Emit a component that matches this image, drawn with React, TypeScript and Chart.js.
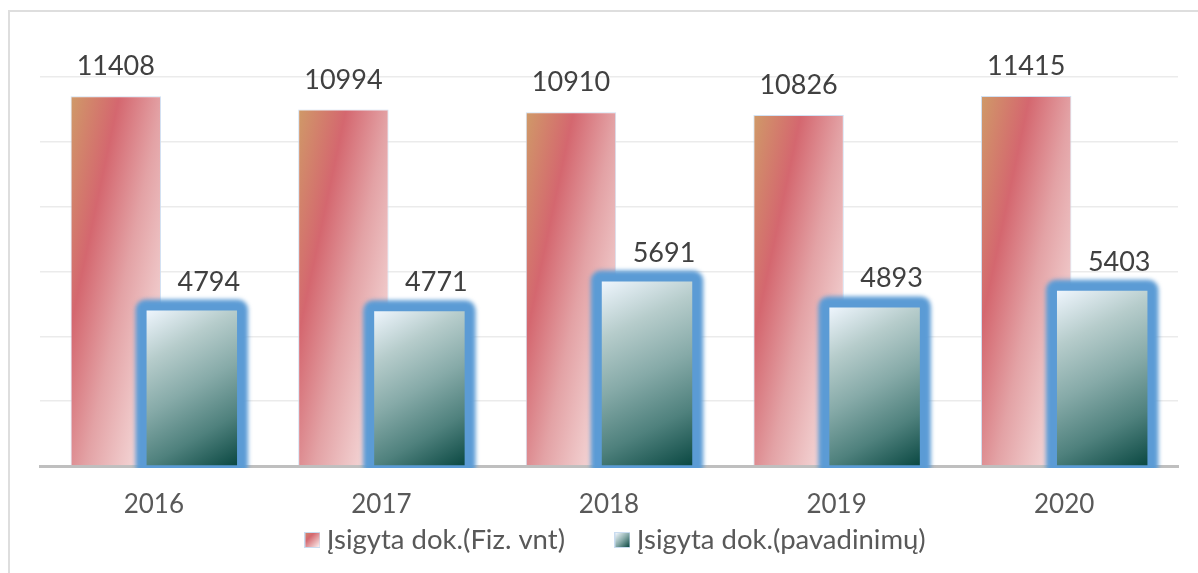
import React, { useEffect, useRef } from 'react';
import { Chart, registerables } from 'chart.js';

Chart.register(...registerables);

const years = ['2016', '2017', '2018', '2019', '2020'];
const fizVnt = [11408, 10994, 10910, 10826, 11415];
const pavadinimu = [4794, 4771, 5691, 4893, 5403];
const seriesNames = ['Įsigyta dok.(Fiz. vnt)', 'Įsigyta dok.(pavadinimų)'];
const yMax = 12000;
const yStep = 2000;

const FONT = 'Lato, "Open Sans", sans-serif';
const CAT = 0.668;
const BAR = 1.19;

function redGradient(g2: CanvasRenderingContext2D, left: number, top: number, w: number, h: number) {
  const nx = 0.978, ny = 0.206;
  const L = nx * w + ny * h;
  const g = g2.createLinearGradient(left, top, left + nx * L, top + ny * L);
  g.addColorStop(0, '#cf9a68');
  g.addColorStop(0.13, '#d2836b');
  g.addColorStop(0.29, '#d4676f');
  g.addColorStop(0.55, '#e3a2a5');
  g.addColorStop(0.75, '#eec4c5');
  g.addColorStop(1, '#faecec');
  return g;
}

function tealGradient(g2: CanvasRenderingContext2D, left: number, top: number, w: number, h: number) {
  const g = g2.createLinearGradient(left, top, left + w, top + h);
  g.addColorStop(0, '#eef5fd');
  g.addColorStop(0.25, '#b6cccb');
  g.addColorStop(0.5, '#86aaa8');
  g.addColorStop(0.75, '#4f817d');
  g.addColorStop(1, '#0a4842');
  return g;
}

function fillFor(c: any, ds: number) {
  const chart = c.chart;
  const xs = chart.scales && chart.scales.x;
  const ys = chart.scales && chart.scales.y;
  if (!xs || !ys || !chart.chartArea || c.dataIndex === undefined) return ds === 0 ? '#d9747a' : '#6a9a96';
  const i = c.dataIndex;
  const v = ds === 0 ? fizVnt[i] : pavadinimu[i];
  const center = xs.getPixelForValue(i);
  const catW = xs.width / years.length;
  const slot = (catW * CAT) / 2;
  const w = slot * BAR;
  const cx = center + (ds === 0 ? -slot / 2 : slot / 2);
  const top = ys.getPixelForValue(v);
  const base = ys.getPixelForValue(0);
  const left = cx - w / 2;
  return ds === 0
    ? redGradient(chart.ctx, left, top, w, base - top)
    : tealGradient(chart.ctx, left, top, w, base - top);
}

function legendSwatch(kind: number) {
  const cv = document.createElement('canvas');
  cv.width = 16;
  cv.height = 16;
  const g2 = cv.getContext('2d')!;
  g2.fillStyle = '#c9dcf0';
  g2.fillRect(0, 0, 16, 16);
  if (kind === 0) {
    const g = g2.createLinearGradient(1, 1, 15, 15);
    g.addColorStop(0, '#d2836b');
    g.addColorStop(0.3, '#d4676f');
    g.addColorStop(0.7, '#eab5b7');
    g.addColorStop(1, '#fbf0f0');
    g2.fillStyle = g;
  } else {
    const g = g2.createLinearGradient(1, 1, 15, 15);
    g.addColorStop(0, '#f4f8ff');
    g.addColorStop(0.5, '#86aaa8');
    g.addColorStop(1, '#0a4842');
    g2.fillStyle = g;
  }
  g2.fillRect(1, 1, 14, 14);
  return cv;
}

function roundRectPath(ctx: CanvasRenderingContext2D, x: number, y: number, w: number, h: number, r: number) {
  ctx.beginPath();
  ctx.moveTo(x + r, y);
  ctx.lineTo(x + w - r, y);
  ctx.arcTo(x + w, y, x + w, y + r, r);
  ctx.lineTo(x + w, y + h - r);
  ctx.arcTo(x + w, y + h, x + w - r, y + h, r);
  ctx.lineTo(x + r, y + h);
  ctx.arcTo(x, y + h, x, y + h - r, r);
  ctx.lineTo(x, y + r);
  ctx.arcTo(x, y, x + r, y, r);
  ctx.closePath();
}

// Chart.js draws datasets last-to-first; after the red series is drawn,
// paint the blue glow and redraw the teal bars on top of it.
const glowPlugin = {
  id: 'glow',
  afterDatasetDraw(chart: any, args: any) {
    if (args.index !== 0) return;
    const ctx = chart.ctx as CanvasRenderingContext2D;
    const meta = chart.getDatasetMeta(1);
    const area = chart.chartArea;
    ctx.save();
    ctx.beginPath();
    ctx.rect(0, 0, chart.width, area.bottom + 2);
    ctx.clip();
    meta.data.forEach((el: any) => {
      const p = el.getProps(['x', 'y', 'base', 'width'], true);
      const left = p.x - p.width / 2;
      const top = Math.min(p.y, p.base);
      const h = Math.abs(p.base - p.y);
      ctx.save();
      ctx.filter = 'blur(2px)';
      ctx.fillStyle = '#5b9bd5';
      roundRectPath(ctx, left - 11, top - 11, p.width + 22, h + 22, 10);
      ctx.fill();
      ctx.restore();
    });
    ctx.restore();
    ctx.save();
    ctx.beginPath();
    ctx.rect(area.left, area.top, area.right - area.left, area.bottom - area.top);
    ctx.clip();
    meta.data.forEach((el: any) => el.draw(ctx));
    ctx.restore();
  },
};

const labelPlugin = {
  id: 'valueLabels',
  afterDatasetsDraw(chart: any) {
    const ctx = chart.ctx as CanvasRenderingContext2D;
    ctx.save();
    ctx.font = `27px ${FONT}`;
    ctx.fillStyle = '#404040';
    ctx.textAlign = 'center';
    ctx.textBaseline = 'alphabetic';
    chart.data.datasets.forEach((ds: any, di: number) => {
      const meta = chart.getDatasetMeta(di);
      meta.data.forEach((el: any, i: number) => {
        const p = el.getProps(['x', 'y'], true);
        const dx = di === 0 ? 0 : 17;
        const dy = di === 0 ? 21 : 20;
        ctx.fillText(String(ds.data[i]), p.x + dx, p.y - dy);
      });
    });
    ctx.restore();
  },
};

export default function App() {
  const ref = useRef<HTMLCanvasElement>(null);

  useEffect(() => {
    const canvas = ref.current!;
    const swatches = [legendSwatch(0), legendSwatch(1)];
    const chart = new Chart(canvas, {
      type: 'bar',
      data: {
        labels: years,
        datasets: [
          {
            label: seriesNames[0],
            data: fizVnt,
            backgroundColor: (c: any) => fillFor(c, 0),
            borderColor: 'rgba(205,222,242,0.9)',
            borderWidth: 1,
            categoryPercentage: CAT,
            barPercentage: BAR,
          },
          {
            label: seriesNames[1],
            data: pavadinimu,
            backgroundColor: (c: any) => fillFor(c, 1),
            borderWidth: 0,
            categoryPercentage: CAT,
            barPercentage: BAR,
          },
        ],
      },
      options: {
        responsive: false,
        animation: false,
        layout: { padding: { left: 30, right: 0.5, top: 65, bottom: 9.25 } },
        scales: {
          x: {
            z: 1,
            grid: { display: false, drawTicks: false },
            border: { display: true, color: '#bfbfbf', width: 3 },
            ticks: { color: '#595959', font: { family: FONT, size: 26 }, mirror: true, padding: -54.5 },
            afterFit: (s: any) => { s.height = 3.25; },
          },
          y: {
            min: 0,
            max: yMax,
            ticks: { display: false, stepSize: yStep },
            grid: { color: '#ebebeb', lineWidth: 1.5, drawTicks: false },
            border: { display: false },
            afterFit: (s: any) => { s.width = 0; },
          },
          y2: {
            position: 'right',
            ticks: { display: false },
            grid: { display: false, drawTicks: false },
            border: { display: false },
            afterFit: (s: any) => { s.width = 19.5; },
          },
        },
        plugins: {
          tooltip: { enabled: false },
          legend: {
            position: 'bottom',
            labels: {
              usePointStyle: true,
              pointStyleWidth: 1,
              boxWidth: 1,
              boxHeight: 16,
              padding: 57,
              color: '#595959',
              font: { family: FONT, size: 27.5 },
              generateLabels: () =>
                seriesNames.map((t, i) => ({
                  text: t,
                  fillStyle: 'transparent',
                  strokeStyle: 'transparent',
                  lineWidth: 0,
                  pointStyle: swatches[i],
                  hidden: false,
                  datasetIndex: i,
                  fontColor: '#595959',
                })),
            },
          },
        },
      },
      plugins: [glowPlugin, labelPlugin],
    } as any);
    return () => chart.destroy();
  }, []);

  return (
    <div
      style={{
        position: 'fixed',
        left: 8,
        top: 10,
        width: 1190,
        height: 563,
        boxSizing: 'border-box',
        borderTop: '2px solid #dedede',
        borderLeft: '2px solid #dedede',
        background: '#fff',
      }}
    >
      <canvas ref={ref} width={1188} height={561} style={{ display: 'block', width: 1188, height: 561 }} />
    </div>
  );
}
